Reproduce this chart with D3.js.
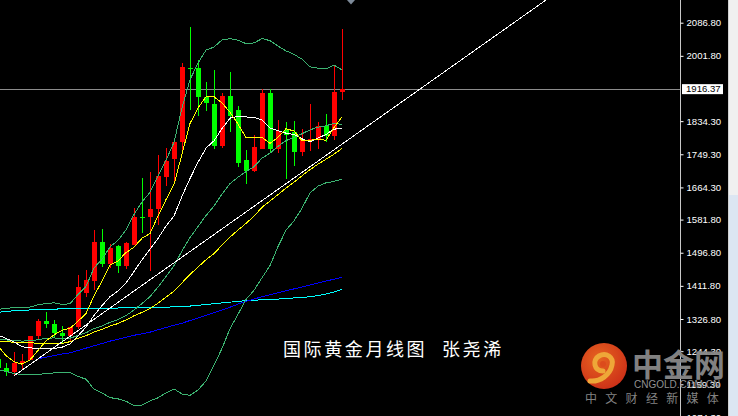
<!DOCTYPE html>
<html><head><meta charset="utf-8">
<script src="https://cdn.jsdelivr.net/npm/d3@7/dist/d3.min.js"></script>
<style>html,body{margin:0;padding:0;background:#000;overflow:hidden}</style>
</head><body><svg id="c" width="738" height="416" xmlns="http://www.w3.org/2000/svg"></svg>
<script>
// Monthly candles, Aug 2018 .. Mar 2022
const months = ["2018-08","2018-09","2018-10","2018-11","2018-12","2019-01","2019-02","2019-03","2019-04","2019-05","2019-06","2019-07","2019-08","2019-09","2019-10","2019-11","2019-12","2020-01","2020-02","2020-03","2020-04","2020-05","2020-06","2020-07","2020-08","2020-09","2020-10","2020-11","2020-12","2021-01","2021-02","2021-03","2021-04","2021-05","2021-06","2021-07","2021-08","2021-09","2021-10","2021-11","2021-12","2022-01","2022-02","2022-03"];
const opens  = [1223,1201,1192,1213,1222,1282,1321,1313,1292,1284,1305,1394,1425,1525,1468,1513,1463,1517,1589,1589,1608,1692,1737,1781,1971,1970,1897,1878,1770,1899,1863,1734,1707,1764,1907,1764,1811,1806,1756,1783,1786,1822,1797,1909];
const highs  = [1225,1214,1243,1237,1284,1326,1346,1324,1310,1306,1439,1453,1555,1557,1520,1516,1524,1611,1689,1704,1747,1766,1789,1984,2075,1991,1935,1965,1906,1961,1872,1760,1798,1916,1916,1836,1833,1834,1814,1877,1831,1853,1975,2070];
const lows   = [1160,1180,1182,1196,1221,1276,1303,1281,1266,1267,1301,1382,1400,1459,1458,1445,1454,1517,1547,1451,1568,1668,1675,1760,1864,1847,1861,1764,1766,1807,1716,1673,1704,1762,1754,1752,1685,1720,1744,1758,1762,1782,1785,1888];
const closes = [1201,1192,1215,1220,1282,1321,1313,1292,1284,1305,1409,1427,1525,1468,1510,1464,1521,1589,1585,1608,1693,1733,1782,1974,1968,1895,1880,1770,1899,1847,1726,1707,1769,1907,1764,1810,1800,1756,1786,1789,1821,1797,1909,1916];

// Indicator lines (per candle)
const ma5  = [1258,1233,1217,1211,1222,1246,1271,1286,1298,1303,1321,1341,1386,1424,1465,1476,1497,1511,1534,1546,1591,1633,1672,1750,1828,1868,1897,1897,1881,1857,1827,1792,1791,1793,1777,1793,1815,1809,1784,1785,1788,1785,1818,1845];
const ma10 = [1285.5,1277,1268,1256,1252.5,1252,1252,1251,1254.5,1263,1283.5,1306,1336,1361,1384,1398.5,1419,1448.6,1478.7,1506,1533.6,1565,1591,1641.6,1687,1729,1765,1784,1815,1842,1847,1845,1844,1837,1817,1810,1803.5,1800,1789,1781,1791,1800,1814,1814.6];
const ma30 = [1270.6,1269.2,1266.7,1267,1265.7,1264.7,1264.8,1264,1264.2,1268.6,1277.2,1284,1293.1,1300.5,1308.7,1315.2,1324.4,1335,1343.8,1353.7,1367.5,1382.7,1398.6,1419.6,1441.2,1459.9,1478.7,1494.7,1516.2,1537,1554.8,1571.9,1590.4,1613.2,1629.5,1645.9,1662.6,1677.6,1694.2,1709.9,1723.9,1736.6,1749.6,1764.4];
const bbUpper = [1351.5,1353.9,1356.1,1356.4,1357.3,1363.2,1366.5,1368.3,1364.3,1365.8,1389.6,1410.3,1457.8,1479.8,1511.7,1528.6,1555,1595,1627.4,1651.7,1692.6,1733.9,1779.7,1868.5,1940.4,1983.4,2016.5,2024.3,2042.6,2045.9,2042.1,2033.1,2035,2046,2040.8,2027,2014.6,2005.5,1993.2,1973.4,1970.3,1968.5,1977.9,1965.7];
const bbMiddle = [1274.1,1273.2,1271.6,1270.2,1270.9,1273.6,1277.1,1278.3,1276.4,1277.6,1284.5,1291.4,1302.3,1308.6,1318.4,1325.3,1335.4,1350,1366.6,1384.3,1408.6,1435.5,1463.7,1501.4,1535.6,1563.9,1592.2,1616.4,1647,1674,1690.4,1705,1717.6,1739.3,1752.2,1769.7,1784.5,1792.1,1802,1811.9,1819,1822.3,1828.8,1825.8];
const bbLower = [1196.7,1192.5,1187.1,1184,1184.5,1184,1187.7,1188.3,1188.5,1189.4,1179.4,1172.5,1146.8,1137.4,1125.1,1122,1115.8,1105,1105.8,1116.9,1124.6,1137.1,1147.7,1134.3,1130.8,1144.4,1167.9,1208.5,1251.4,1302.1,1338.7,1376.9,1400.2,1432.6,1463.6,1512.4,1554.4,1578.7,1610.8,1650.4,1667.7,1676.1,1679.7,1685.9];
const cyanLine = [1344,1346,1348,1349,1350,1351,1352,1352,1353,1353,1353,1354,1354,1354,1355,1355,1356,1356,1356,1357,1357,1357,1358,1359,1360,1362,1364,1366,1368,1370,1372,1374,1375,1376,1377,1378,1379,1381,1382,1384,1387,1391,1396,1403];
const blueLine = [null,null,null,null,null,1225,1229,1233,1237,1240,1246,1252,1258,1264,1270,1275,1280,1285,1289,1293,1299,1305,1311,1316,1323,1329,1336,1343,1350,1357,1365,1372,1378,1384,1389,1394,1399,1404,1409,1414,1419,1424,1429,1434];
// Trend line anchors (candle index, price)
const trendIdx = [2, 68.5];
const trendPrice = [1181, 2145];

// Price axis
const tickValues = [2086.80,2001.80,1834.30,1749.30,1664.30,1581.80,1496.80,1411.80,1326.80,1244.30,1159.30,1074.30];
const lastPrice = 1916.37;

const title1 = "国际黄金月线图", title2 = "张尧浠";

const W = 738, H = 416, plotRight = 680;
const svg = d3.select('#c');
svg.append('rect').attr('width', W).attr('height', H).attr('fill', '#000');
svg.append('defs').append('clipPath').attr('id','clip')
  .append('rect').attr('x',0).attr('y',0).attr('width',plotRight).attr('height',H);

const x = d3.scaleLinear().domain([0, 43]).range([-2, 342]);
const y = d3.scaleLinear().domain([1159.3, 2086.8]).range([384.3, 22.7]);

const plot = svg.append('g').attr('clip-path','url(#clip)');

// last price line
plot.append('line').attr('x1',0).attr('x2',plotRight)
  .attr('y1', Math.round(y(lastPrice))+0.5).attr('y2', Math.round(y(lastPrice))+0.5)
  .attr('stroke','#8c8c8c').attr('stroke-width',1);

// candles
const idx = d3.range(opens.length);
const cg = plot.append('g').attr('shape-rendering','crispEdges');
idx.forEach(i => {
  const up = closes[i] >= opens[i];
  const col = up ? '#ff0000' : '#00ff00';
  const cx = Math.round(x(i));
  cg.append('rect').attr('x', cx).attr('width',1)
    .attr('y', y(highs[i])).attr('height', Math.max(1, y(lows[i]) - y(highs[i])))
    .attr('fill', col);
  const top = y(Math.max(opens[i], closes[i])), bot = y(Math.min(opens[i], closes[i]));
  cg.append('rect').attr('x', cx-2).attr('width',5)
    .attr('y', top).attr('height', Math.max(1.5, bot-top)).attr('fill', col);
});

// indicator lines
const lg = plot.append('g').attr('fill','none').attr('stroke-width',1).attr('shape-rendering','crispEdges');
const mk = arr => d3.line().defined(d => d != null).x((d,i) => x(i)).y(d => y(d))(arr);
lg.append('path').attr('d', mk(cyanLine)).attr('stroke','#00ffff');
lg.append('path').attr('d', mk(blueLine)).attr('stroke','#0000ff');
lg.append('path').attr('d', mk(bbUpper)).attr('stroke','#3cb371');
lg.append('path').attr('d', mk(bbMiddle)).attr('stroke','#3cb371');
lg.append('path').attr('d', mk(bbLower)).attr('stroke','#3cb371');
lg.append('path').attr('d', mk(ma30)).attr('stroke','#ffff00');
lg.append('path').attr('d', mk(ma10)).attr('stroke','#ffffff');
lg.append('path').attr('d', mk(ma5)).attr('stroke','#ffff00');
lg.append('line')
  .attr('x1', x(trendIdx[0])).attr('y1', y(trendPrice[0]))
  .attr('x2', x(trendIdx[1])).attr('y2', y(trendPrice[1]))
  .attr('stroke','#ffffff').attr('stroke-width',1);

// chart shift marker
svg.append('path').attr('d','M347,0 L355,0 L351,4.5 Z').attr('fill','#7d8a99');

// axis separator
svg.append('line').attr('x1',plotRight+0.5).attr('x2',plotRight+0.5).attr('y1',0).attr('y2',H)
  .attr('stroke','#c8c8c8');

// price axis
const axis = d3.axisRight(y).tickValues(tickValues).tickFormat(d3.format('.2f')).tickSize(3).tickPadding(3);
const ag = svg.append('g').attr('transform',`translate(${plotRight+0.5},0)`).call(axis);
ag.select('.domain').remove();
ag.selectAll('line').attr('stroke','#ffffff');
ag.selectAll('text').attr('fill','#ffffff').attr('font-family','"Liberation Sans", Arial, sans-serif')
  .attr('font-size','9.6px');

// last price box
const ly = y(lastPrice);
svg.append('rect').attr('x',682).attr('y',ly-5).attr('width',41).attr('height',10).attr('fill','#ffffff');
svg.append('text').attr('x',686).attr('y',ly).attr('dy','0.34em').text(lastPrice.toFixed(2))
  .attr('fill','#000').attr('font-family','"Liberation Sans", Arial, sans-serif').attr('font-size','9.6px');

// right strip
svg.append('line').attr('x1',728.5).attr('x2',728.5).attr('y1',0).attr('y2',H).attr('stroke','#d0d0d0');
svg.append('rect').attr('x',729).attr('y',0).attr('width',9).attr('height',195).attr('fill','#f0f0f0');
svg.append('rect').attr('x',729).attr('y',195).attr('width',9).attr('height',H-195).attr('fill','#dce6f2');

// title
const tf = '"Noto Sans CJK SC", sans-serif';
svg.append('text').attr('x',283).attr('y',356).text(title1)
  .attr('fill','#ffffff').attr('font-family',tf).attr('font-size','18px').attr('letter-spacing','2.6px');
svg.append('text').attr('x',442).attr('y',356).text(title2)
  .attr('fill','#ffffff').attr('font-family',tf).attr('font-size','18px').attr('letter-spacing','2.6px');

// watermark logo
const logo = svg.append('g').attr('opacity',0.95);
const grad = svg.select('defs').append('radialGradient').attr('id','lg').attr('cx','40%').attr('cy','35%').attr('r','70%');
grad.append('stop').attr('offset','0%').attr('stop-color','#f26a22');
grad.append('stop').attr('offset','100%').attr('stop-color','#d8321a');
logo.append('circle').attr('cx',604).attr('cy',366).attr('r',23).attr('fill','url(#lg)');
logo.append('path')
  .attr('d','M603,371 C594,371 592,360 599,356 C606,352 614,357 612,365 C610,375 600,382 590,381')
  .attr('fill','none').attr('stroke','#fbb03b').attr('stroke-width',5).attr('stroke-linecap','round');
logo.append('circle').attr('cx',603).attr('cy',364).attr('r',3).attr('fill','#e8501e');
logo.append('text').attr('x',632).attr('y',376).text('中金网')
  .attr('fill','#888888').attr('font-family',tf).attr('font-weight',700).attr('font-size','31px');
logo.append('text').attr('x',634).attr('y',388).text('CNGOLD.COM.CN')
  .attr('fill','#9a9a9a').attr('font-family','"Liberation Sans", Arial, sans-serif').attr('font-size','10px');
logo.append('text').attr('x',585).attr('y',403).text('中文财经新媒体')
  .attr('fill','#8a8a8a').attr('font-family',tf).attr('font-size','12px').attr('letter-spacing','8.3px');
</script>
</body></html>
